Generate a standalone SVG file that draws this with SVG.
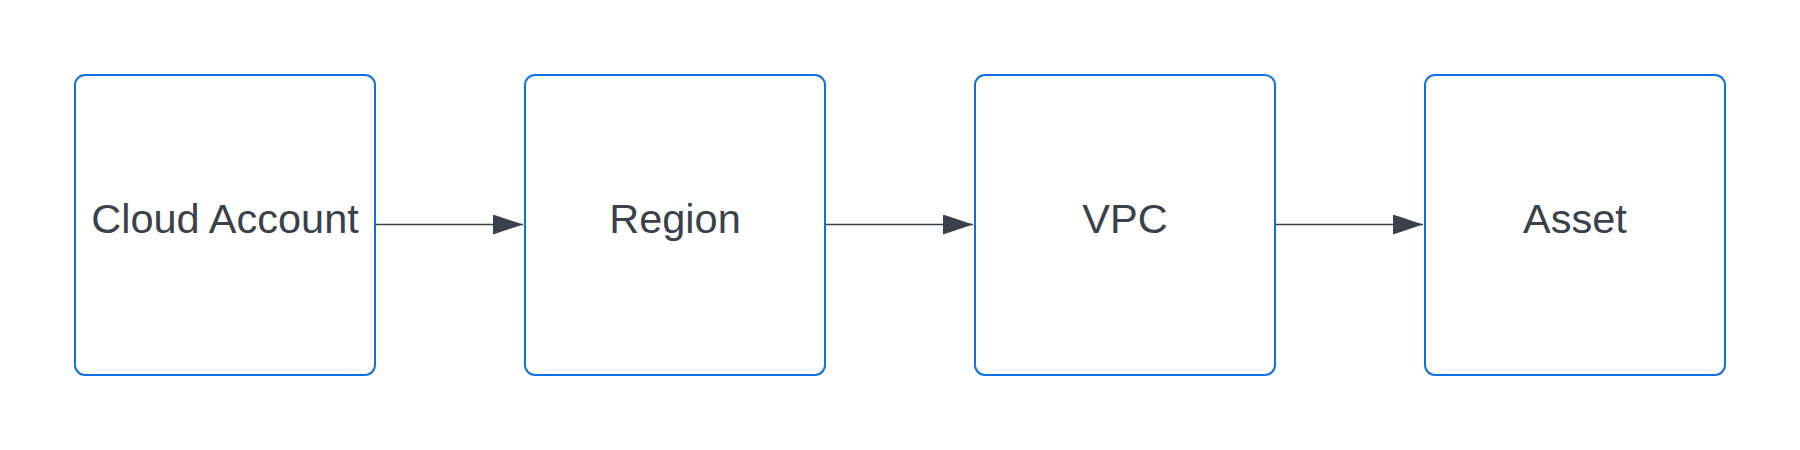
<svg xmlns="http://www.w3.org/2000/svg" width="1800" height="450" viewBox="0 0 1800 450">
<defs>
<style>
.box{fill:#ffffff;stroke:#1071e5;stroke-width:2}
.lbl{font-family:"Liberation Sans",Arial,sans-serif;font-size:41.5px;fill:#3a414a;text-anchor:middle}
.edge{stroke:#3a414a;stroke-width:1.5;fill:none}
</style>
<marker id="arr" markerUnits="userSpaceOnUse" markerWidth="32" markerHeight="22" refX="30" refY="10" orient="auto">
<path d="M0,0 L30,10 L0,20 Z" fill="#3a414a"/>
</marker>
</defs>
<rect width="1800" height="450" fill="#ffffff"/>
<g id="connectors">
<path class="edge" d="M376,224.5 L523,224.5" marker-end="url(#arr)"/>
<path class="edge" d="M826,224.5 L973,224.5" marker-end="url(#arr)"/>
<path class="edge" d="M1276,224.5 L1423,224.5" marker-end="url(#arr)"/>
</g>
<g id="cloud-account">
<rect class="box" x="75" y="75" width="300" height="300" rx="10"/>
<text class="lbl" x="225" y="233">Cloud Account</text>
</g>
<g id="region">
<rect class="box" x="525" y="75" width="300" height="300" rx="10"/>
<text class="lbl" x="675" y="233">Region</text>
</g>
<g id="vpc">
<rect class="box" x="975" y="75" width="300" height="300" rx="10"/>
<text class="lbl" x="1125" y="233">VPC</text>
</g>
<g id="asset">
<rect class="box" x="1425" y="75" width="300" height="300" rx="10"/>
<text class="lbl" x="1575" y="233">Asset</text>
</g>
</svg>
